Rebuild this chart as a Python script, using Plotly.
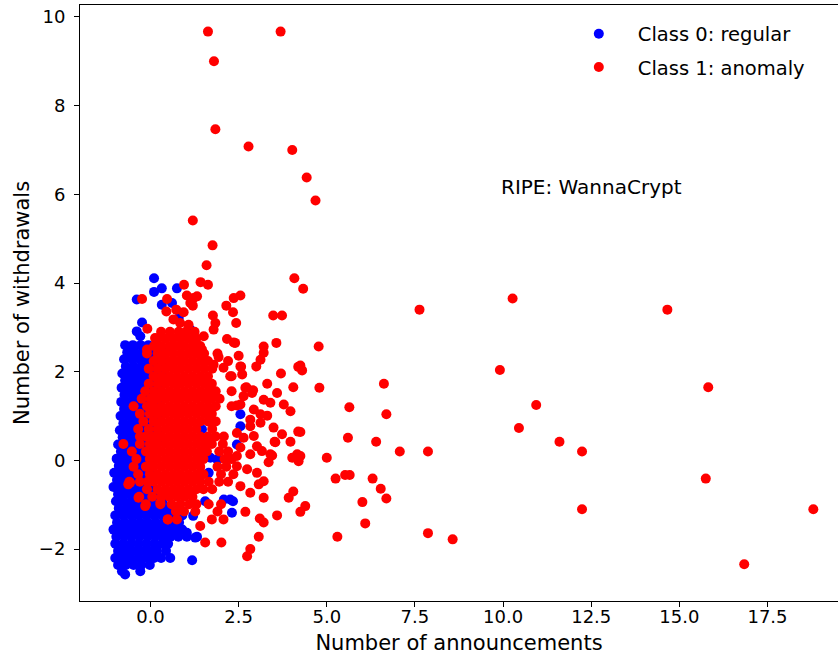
import plotly.graph_objects as go

# ---- Class 0 (regular): dense cloud rows (y level -> x positions) + scattered points
blue_row_y = [2.6, 2.44, 2.28, 2.12, 1.96, 1.8, 1.64, 1.48, 1.32, 1.16, 1.0, 0.84, 0.68,
              0.52, 0.36, 0.2, 0.04, -0.12, -0.28, -0.44, -0.6, -0.76, -0.92, -1.08,
              -1.24, -1.4, -1.56, -1.72, -1.88, -2.04, -2.2, -2.36, -2.5, -2.57]
blue_row_x = [
    [-0.72, -0.5, -0.28, -0.06, 0.16],
    [-0.66, -0.44, -0.22, 0.0, 0.22, 0.44],
    [-0.75, -0.53, -0.31, -0.09, 0.13, 0.35],
    [-0.7, -0.48, -0.26, -0.04, 0.18, 0.4],
    [-0.8, -0.58, -0.36, -0.14, 0.08, 0.3],
    [-0.72, -0.5, -0.28, -0.06, 0.16, 0.38],
    [-0.82, -0.6, -0.38, -0.16, 0.06, 0.28],
    [-0.74, -0.52, -0.3, -0.08, 0.14, 0.36],
    [-0.83, -0.61, -0.39, -0.17, 0.05, 0.27],
    [-0.75, -0.53, -0.31, -0.09, 0.13],
    [-0.85, -0.63, -0.41, -0.19, 0.03, 0.25],
    [-0.77, -0.55, -0.33, -0.11, 0.11],
    [-0.87, -0.65, -0.43, -0.21, 0.01, 0.2],
    [-0.79, -0.57, -0.35, -0.13, 0.09, 0.3],
    [-0.92, -0.7, -0.48, -0.26, -0.04, 0.18],
    [-0.84, -0.62, -0.4, -0.18, 0.04],
    [-0.96, -0.74, -0.52, -0.3, -0.08, 0.12],
    [-0.9, -0.68, -0.46, -0.24, -0.02],
    [-1.03, -0.81, -0.59, -0.37, -0.15, 0.07],
    [-0.95, -0.73, -0.51, -0.29, -0.07, 0.12],
    [-1.05, -0.83, -0.61, -0.39, -0.17, 0.05],
    [-0.92, -0.7, -0.48, -0.26, -0.04, 0.18],
    [-0.98, -0.76, -0.54, -0.32, -0.1, 0.12, 0.34],
    [-0.9, -0.68, -0.46, -0.24, -0.02, 0.2, 0.42, 0.64, 0.8],
    [-1.0, -0.78, -0.56, -0.34, -0.12, 0.1, 0.32, 0.54, 0.76, 0.9],
    [-0.95, -0.73, -0.51, -0.29, -0.07, 0.15, 0.37, 0.59, 0.81],
    [-1.05, -0.83, -0.61, -0.39, -0.17, 0.05, 0.27, 0.49, 0.71, 0.9],
    [-0.97, -0.75, -0.53, -0.31, -0.09, 0.13, 0.35, 0.57, 0.79, 1.03],
    [-1.0, -0.78, -0.56, -0.34, -0.12, 0.1, 0.32, 0.5],
    [-0.92, -0.7, -0.48, -0.26, -0.04, 0.18, 0.44],
    [-1.0, -0.78, -0.56, -0.34, -0.12, 0.1, 0.3, 0.56],
    [-0.92, -0.7, -0.48, -0.26, -0.02],
    [-0.81, -0.29],
    [-0.72],
]
blue_extra_x = [0.1, 0.32, 0.75, 0.1, -0.39, 0.32, 0.61, 0.8, -0.24, -0.39, -0.29, 1.13,
                2.55, 2.45, 2.34, 2.31, 1.7, 2.08, 2.26, 1.21, 1.46, 2.55, 1.65, 1.89,
                1.55, 1.18, 1.27, 1.32, 0.09, 1.03]
blue_extra_y = [4.11, 3.88, 3.88, 3.8, 3.63, 3.51, 3.55, 3.21, 3.11, 2.91, 2.8, 2.95,
                1.04, 0.36, -0.92, -1.18, 0.06, -0.88, -0.88, -1.25, 0.7, 0.77, -0.28, 0.02,
                -0.92, -2.25, -1.74, -1.72, 0.32, -1.63]

# ---- Class 1 (anomaly): dense core rows + scattered points
red_row_y = [2.9, 2.75, 2.58, 2.41, 2.24, 2.07, 1.9, 1.73, 1.56, 1.39, 1.22, 1.05, 0.88,
             0.71, 0.54, 0.37, 0.2, 0.03, -0.14, -0.31, -0.48, -0.65, -0.82, -0.99,
             -1.15, -1.33, -1.48, -1.85]
red_row_x = [
    [0.3, 0.55, 0.8, 1.0, 1.25],
    [0.2, 0.42, 0.64, 0.86, 1.08, 1.3],
    [0.1, 0.31, 0.53, 0.75, 0.97, 1.19, 1.41],
    [-0.1, 0.2, 0.42, 0.64, 0.86, 1.08, 1.3, 1.52, 1.9],
    [0.09, 0.31, 0.53, 0.75, 0.97, 1.19, 1.41, 1.63, 2.2],
    [-0.05, 0.2, 0.42, 0.64, 0.86, 1.08, 1.3, 1.52, 1.75],
    [0.09, 0.31, 0.53, 0.75, 0.97, 1.19, 1.41, 1.63, 2.3],
    [-0.05, 0.2, 0.42, 0.64, 0.86, 1.08, 1.3, 1.52, 1.74],
    [-0.15, 0.09, 0.31, 0.53, 0.75, 0.97, 1.19, 1.41, 1.63, 1.85, 2.3],
    [-0.25, 0.0, 0.2, 0.42, 0.64, 0.86, 1.08, 1.3, 1.52, 1.74, 1.96],
    [-0.48, -0.1, 0.09, 0.31, 0.53, 0.75, 0.97, 1.19, 1.41, 1.63, 1.85, 2.3],
    [-0.3, -0.02, 0.2, 0.42, 0.64, 0.86, 1.08, 1.3, 1.52, 1.74],
    [-0.2, 0.09, 0.31, 0.53, 0.75, 0.97, 1.19, 1.41, 1.63, 1.85],
    [-0.35, -0.05, 0.2, 0.42, 0.64, 0.86, 1.08, 1.3, 1.75],
    [-0.3, -0.13, 0.09, 0.31, 0.53, 0.75, 0.97, 1.19, 1.41, 1.63, 1.85, 2.08],
    [-0.77, -0.3, -0.02, 0.2, 0.42, 0.64, 0.86, 1.08, 1.3, 1.52, 1.74, 2.05],
    [-0.53, -0.13, 0.09, 0.31, 0.53, 0.75, 0.97, 1.19, 1.41, 1.6, 1.95, 2.2],
    [-0.4, -0.02, 0.2, 0.42, 0.64, 0.86, 1.08, 1.3, 1.5, 2.1, 2.3],
    [-0.48, -0.13, 0.09, 0.31, 0.53, 0.75, 0.97, 1.19, 1.41, 1.9, 2.15],
    [-0.35, -0.02, 0.2, 0.42, 0.64, 0.86, 1.08, 1.3, 1.5, 2.0, 2.35],
    [-0.6, -0.3, -0.08, 0.09, 0.31, 0.53, 0.75, 0.97, 1.19, 1.41, 1.65, 1.95, 2.2],
    [-0.1, 0.2, 0.42, 0.64, 0.86, 1.08, 1.3, 1.5, 1.75],
    [-0.32, 0.05, 0.31, 0.53, 0.75, 0.97, 1.19],
    [-0.13, 0.28, 0.6, 0.85, 1.1, 1.3, 1.65, 2.0],
    [0.72, 0.95, 1.27, 1.9],
    [0.49, 0.75, 1.74, 2.07],
    [1.41],
    [1.55, 2.01],
]
red_extra_x = [
    1.63, 3.69, 1.80, 1.84, 2.78, 4.02, 4.43, 4.68, 1.20, 1.76, 1.59, 4.08, 4.33, 1.42, 1.63, 0.95,
    -0.24, 0.47, 1.03, 1.13, 1.32, 0.45, 0.73, 0.94, 0.65, 0.84, 1.08, -0.09, 0.13, -0.1,
    1.22, 1.2, 2.36, 2.55, 2.15, 2.34, 1.77, 1.84, 1.79, 2.43, 1.51, 2.17, 2.36, 1.22, 1.46,
    1.93, 2.5, 1.79, 2.07, 2.55, 2.26, 2.69, 2.88, 2.64, 1.7,
    3.48, 3.73, 3.57, 4.77, 2.4, 3.21, 3.21, 3.12, 3.0, 2.57, 2.6, 4.19, 4.3, 3.7, 3.31,
    4.05, 4.79, 2.72, 2.91, 3.59, 2.55, 3.21, 3.4, 3.78, 3.97, 2.45, 2.93, 3.12, 3.31, 2.83,
    3.12, 3.49, 3.73, 4.19, 2.83, 2.45, 2.64, 2.93, 3.52, 3.97, 2.55, 3.02, 3.16, 2.45, 2.83,
    3.4, 4.02, 4.16, 4.2, 3.35, 5.0, 2.45, 2.74, 3.02, 3.21, 3.07, 5.25, 2.55, 2.83, 3.21,
    4.05, 3.92, 4.39, 4.25, 2.69, 3.59, 3.1, 3.21, 5.3, 3.07, 2.83, 2.74, 3.45, 3.54,
    4.25, 6.62, 5.64, 6.69, 4.25, 5.6, 6.4, 7.07, 7.87, 4.25, 5.52, 5.65, 6.3, 6.53, 6.69,
    6.01, 6.09, 7.87, 8.57, 7.63,
    10.27, 14.66, 9.91, 15.82, 10.94, 10.45, 11.6, 12.24, 15.75, 12.24, 18.8, 16.84,
    -0.63, -0.34, -0.15, 0.28, 0.75, 0.49, -0.58,
]
red_extra_y = [
    9.67, 9.67, 9.0, 7.47, 7.08, 7.0, 6.38, 5.86, 5.41, 4.85, 4.40, 4.11, 3.87, 4.02, 3.96, 3.96,
    3.64, 3.64, 3.72, 3.55, 3.7, 3.36, 3.4, 3.34, 3.18, 3.1, 3.06, 2.97, 2.76, 2.5,
    3.66, 3.49, 3.66, 3.72, 3.49, 3.34, 3.27, 3.1, 2.95, 3.1, 2.8, 2.74, 2.66, 2.57, 2.5,
    2.33, 2.36, 2.16, 2.09, 2.12, 1.9, 1.64, 1.52, 1.45, 1.52,
    3.27, 3.27, 2.65, 2.57, 2.65, 2.57, 2.43, 2.27, 2.12, 2.11, 1.94, 2.11, 2.03, 1.96, 1.73,
    1.65, 1.64, 1.65, 1.58, 1.52, 1.26, 1.37, 1.3, 1.26, 1.11, 1.24, 1.15, 1.04, 1.01, 0.92,
    0.85, 0.74, 0.59, 0.65, 0.77, 0.62, 0.51, 0.55, 0.42, 0.42, 0.29, 0.32, 0.21, 0.1, 0.14,
    0.14, 0.06, 0.14, -0.02, -0.04, 0.06, -0.13, -0.2, -0.28, -0.47, -0.54, -0.41, -0.58, -0.73, -0.84,
    -0.7, -0.84, -1.03, -1.16, -1.16, -1.24, -1.31, -1.4, -1.72, -1.72, -2.0, -2.16, 0.11, 0.41,
    2.14, 1.73, 1.2, 1.04, 0.64, 0.51, 0.42, 0.2, 0.2, 0.1, -0.33, -0.33, -0.41, -0.64, -0.86,
    -0.94, -1.42, -1.64, -1.78, 3.4,
    3.65, 3.40, 2.04, 1.65, 1.25, 0.73, 0.42, 0.2, -0.41, -1.1, -1.1, -2.34,
    -0.54, -0.84, -1.03, -0.95, -1.14, -1.33, -0.5,
]

x_ticks = [0.0, 2.5, 5.0, 7.5, 10.0, 12.5, 15.0, 17.5]
y_ticks = [-2, 0, 2, 4, 6, 8, 10]


def expand(rows_y, rows_x, ex_x, ex_y):
    xs, ys = [], []
    for yv, row in zip(rows_y, rows_x):
        for xv in row:
            xs.append(xv)
            ys.append(yv)
    return xs + list(ex_x), ys + list(ex_y)


bx, by = expand(blue_row_y, blue_row_x, blue_extra_x, blue_extra_y)
rx, ry = expand(red_row_y, red_row_x, red_extra_x, red_extra_y)

FONT = "DejaVu Sans"
fig = go.Figure()
fig.add_trace(go.Scatter(x=bx, y=by, mode="markers", name="Class 0: regular",
                         legendgroup="a",
                         marker=dict(color="#0000ff", size=10, line=dict(width=0))))
fig.add_trace(go.Scatter(x=rx, y=ry, mode="markers", name="Class 1: anomaly",
                         legendgroup="b",
                         marker=dict(color="#ff0000", size=10, line=dict(width=0))))

fig.add_annotation(x=9.89, y=6.17, xref="x", yref="y", text="RIPE: WannaCrypt",
                   showarrow=False, xanchor="left", yanchor="middle",
                   font=dict(family=FONT, size=20, color="black"))

axis_common = dict(showgrid=False, zeroline=False, showline=True, linecolor="black",
                   linewidth=1, ticks="outside", ticklen=5, tickwidth=1, tickcolor="black",
                   automargin=False,
                   tickfont=dict(family=FONT, size=18, color="black"))

fig.update_xaxes(range=[-2.0, 19.5], tickvals=x_ticks,
                 ticktext=[f"{v:.1f}" for v in x_ticks], mirror=True,
                 ticklabelstandoff=-6,
                 title=dict(text="Number of announcements",
                            font=dict(family=FONT, size=21, color="black"), standoff=9),
                 **axis_common)
fig.update_yaxes(range=[-3.17, 10.27], tickvals=y_ticks,
                 ticktext=[("\u2212" + str(-v)) if v < 0 else str(v) for v in y_ticks],
                 ticklabelstandoff=5,
                 title=dict(text="Number of withdrawals",
                            font=dict(family=FONT, size=21, color="black"), standoff=3),
                 **axis_common)

fig.update_layout(
    width=838, height=658,
    margin=dict(l=80, r=0, t=5, b=57, pad=0),
    paper_bgcolor="white", plot_bgcolor="white",
    font=dict(family=FONT, color="black"),
    showlegend=True,
    legend=dict(x=0.633, y=0.984, xanchor="left", yanchor="top",
                bgcolor="rgba(0,0,0,0)", borderwidth=0,
                font=dict(family=FONT, size=19.5, color="black"),
                tracegroupgap=5, itemwidth=68),
)

fig.write_html("out.html", config={"displayModeBar": False},
               post_script="document.body.style.margin='0';")
